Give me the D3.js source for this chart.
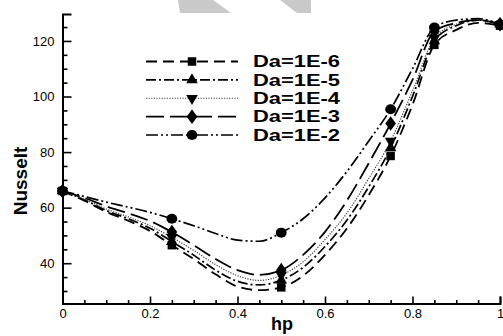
<!DOCTYPE html>
<html>
<head>
<meta charset="utf-8">
<script src="https://cdn.jsdelivr.net/npm/d3@7"></script>
<style>
  html, body { margin: 0; padding: 0; background: #fff; }
  svg { display: block; }
</style>
</head>
<body>
<script>
// Heater position along the wall
const hp = [0, 0.05, 0.1, 0.15, 0.2, 0.25, 0.3, 0.35, 0.4, 0.45, 0.5,
            0.55, 0.6, 0.65, 0.7, 0.75, 0.8, 0.85, 0.9, 0.95, 1];

// Average Nusselt number for each Darcy number
const nuDa1e6 = [66, 62.5, 58.5, 55.3, 51.6, 46.5, 41.5, 36, 31.6, 30.3, 31.3,
                 35.5, 43, 52.5, 64.5, 78.6, 97, 118.6, 124, 126.5, 125.5];
const nuDa1e5 = [66, 62.8, 59, 56, 52.6, 47.8, 42.9, 37.5, 33.5, 32.2, 33.9,
                 38.5, 46, 55.5, 67.5, 81.5, 100, 120, 125.5, 127.5, 126];
const nuDa1e4 = [66, 63, 59.5, 56.7, 53.5, 49.3, 44.6, 39.5, 35.5, 33.8, 35.7,
                 40.5, 48.5, 58, 70.5, 84, 102, 121, 126, 127.5, 126];
const nuDa1e3 = [66, 63.5, 60.5, 58, 55.2, 51.2, 46.5, 41.5, 37.5, 35.8, 37.5,
                 43, 51.3, 62.5, 76, 90.3, 106, 123.5, 126.5, 127.5, 126];
const nuDa1e2 = [66, 64, 62, 60.2, 58.3, 56, 53.5, 50.7, 48.3, 47.9, 51,
                 56, 63.5, 73, 84, 95.4, 110, 124.8, 127.5, 128, 126];

// Positions that carry a symbol
const markerHp = [0, 0.25, 0.5, 0.75, 0.85, 1];

const seriesNames = ["Da=1E-6", "Da=1E-5", "Da=1E-4", "Da=1E-3", "Da=1E-2"];
const seriesValues = [nuDa1e6, nuDa1e5, nuDa1e4, nuDa1e3, nuDa1e2];

// Axis ticks
const xMajorTicks = [0, 0.2, 0.4, 0.6, 0.8, 1];
const xTickLabels = ["0", "0.2", "0.4", "0.6", "0.8", "1"];
const yMajorTicks = [40, 60, 80, 100, 120];
const yTickLabels = ["40", "60", "80", "100", "120"];

// Line and symbol styling, one entry per series
const styles = [
  { dash: "11,6",              width: 1.8, color: "#000", symbol: "square" },
  { dash: "10,3,2,3",          width: 1.7, color: "#000", symbol: "triUp" },
  { dash: "1.2,1.4",           width: 1.2, color: "#444", symbol: "triDown" },
  { dash: "18,6",              width: 1.8, color: "#000", symbol: "diamond" },
  { dash: "12,3,2,3,2,3",      width: 1.7, color: "#000", symbol: "circle" }
];

const W = 503, H = 336;
const svg = d3.select("body").append("svg")
  .attr("width", W).attr("height", H)
  .attr("font-family", "'Liberation Sans', Arial, sans-serif");

// light grey band shapes along the top edge
svg.append("polygon")
  .attr("points", "178,0 213,0 231,13 180,13")
  .attr("fill", "#c9c9c9");
svg.append("polygon")
  .attr("points", "280,0 311,0 311,13 297,13")
  .attr("fill", "#c9c9c9");

const x = d3.scaleLinear().domain([0, 1]).range([62.5, 500]);
const y = d3.scaleLinear().domain([25.5, 129.7]).range([303.5, 14]);

// Axes: inward ticks, left and bottom only
const xMinor = d3.range(0.05, 1, 0.05).filter(v => Math.abs(v * 5 - Math.round(v * 5)) > 1e-6);
const yMinor = d3.range(30, 130, 5).filter(v => v % 20 !== 0);

const gx = svg.append("g").attr("transform", `translate(0,${y.range()[0]})`);
gx.call(d3.axisBottom(x).tickValues(xMinor).tickSize(-3.5).tickFormat(""));
gx.call(g => g.selectAll(".domain").remove());
const gxMaj = svg.append("g").attr("transform", `translate(0,${y.range()[0]})`);
gxMaj.call(d3.axisBottom(x).tickValues(xMajorTicks).tickSize(-7).tickPadding(5)
  .tickFormat((d, i) => xTickLabels[i]));

const gy = svg.append("g").attr("transform", `translate(${x.range()[0]},0)`);
gy.call(d3.axisLeft(y).tickValues(yMinor).tickSize(-5).tickFormat(""));
gy.call(g => g.selectAll(".domain").remove());
const gyMaj = svg.append("g").attr("transform", `translate(${x.range()[0]},0)`);
gyMaj.call(d3.axisLeft(y).tickValues(yMajorTicks).tickSize(-9).tickPadding(8)
  .tickFormat((d, i) => yTickLabels[i]));

svg.selectAll(".domain").attr("stroke", "#000").attr("stroke-width", 2);
svg.selectAll(".tick line").attr("stroke", "#000").attr("stroke-width", 1.6);
svg.selectAll(".tick text").attr("font-size", 13).attr("fill", "#000")
  .attr("font-family", "'Liberation Sans', Arial, sans-serif");

// Axis titles
svg.append("text")
  .attr("transform", "translate(27,181) rotate(-90)")
  .attr("text-anchor", "middle")
  .attr("font-size", 19).attr("font-weight", "bold")
  .text("Nusselt");
svg.append("text")
  .attr("x", 282).attr("y", 330)
  .attr("text-anchor", "middle")
  .attr("font-size", 18).attr("font-weight", "bold")
  .text("hp");

// Symbol painter
function drawSymbol(g, kind, cx, cy) {
  if (kind === "circle") {
    g.append("ellipse").attr("cx", cx).attr("cy", cy).attr("rx", 5.4).attr("ry", 5)
      .attr("fill", "#000");
    return;
  }
  let path;
  if (kind === "square") path = d3.symbol(d3.symbolSquare, 72)();
  else if (kind === "triUp" || kind === "triDown") path = d3.symbol(d3.symbolTriangle, 58)();
  else if (kind === "diamond") path = d3.symbol(d3.symbolDiamond, 62)();
  const rot = kind === "triDown" ? " rotate(180)" : "";
  const scaleX = kind === "diamond" ? " scale(1.25,1)" : "";
  g.append("path").attr("d", path)
    .attr("transform", `translate(${cx},${cy})${rot}${scaleX}`)
    .attr("fill", "#000");
}

const line = d3.line()
  .x(d => x(d[0]))
  .y(d => y(d[1]))
  .curve(d3.curveMonotoneX);

const plot = svg.append("g");
seriesValues.forEach((vals, si) => {
  const st = styles[si];
  const pts = hp.map((h, i) => [h, vals[i]]);
  plot.append("path")
    .datum(pts)
    .attr("d", line)
    .attr("fill", "none")
    .attr("stroke", st.color)
    .attr("stroke-width", st.width)
    .attr("stroke-dasharray", st.dash);
});
seriesValues.forEach((vals, si) => {
  const st = styles[si];
  const g = plot.append("g");
  markerHp.forEach(m => {
    const i = hp.findIndex(h => Math.abs(h - m) < 1e-9);
    drawSymbol(g, st.symbol, x(m), y(vals[i]));
  });
});

// Legend
const legend = svg.append("g");
const legendRowY = d3.scaleLinear().domain([0, 4]).range([61.5, 135]);
seriesNames.forEach((name, si) => {
  const st = styles[si];
  const ly = legendRowY(si);
  legend.append("line")
    .attr("x1", 146).attr("x2", 238).attr("y1", ly).attr("y2", ly)
    .attr("stroke", st.color)
    .attr("stroke-width", st.width)
    .attr("stroke-dasharray", st.dash);
  drawSymbol(legend, st.symbol, 192, ly);
  legend.append("text")
    .attr("x", 253).attr("y", ly + 5.8)
    .attr("font-size", 16).attr("font-weight", "bold")
    .attr("textLength", 87).attr("lengthAdjust", "spacingAndGlyphs")
    .text(name);
});
</script>
</body>
</html>
